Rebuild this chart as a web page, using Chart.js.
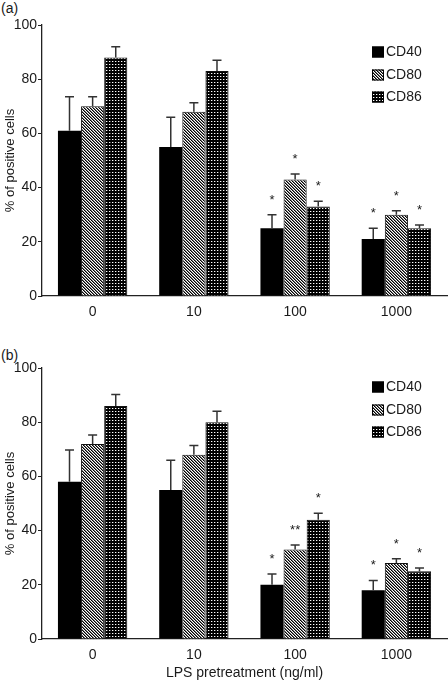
<!DOCTYPE html>
<html>
<head>
<meta charset="utf-8">
<script src="https://cdn.jsdelivr.net/npm/chart.js@4"></script>
<style>
    html, body { margin: 0; padding: 0; background: #fff; }
    body { width: 448px; height: 682px; position: relative; overflow: hidden;
           font-family: "Liberation Sans", Arial, Helvetica, sans-serif; color: #1a1a1a; }
    .panel { position: absolute; left: 0; }
    .tag { position: absolute; left: 1px; font-size: 14px; line-height: 16px; }
</style>
</head>
<body>
<div class="tag" style="top:0px">(a)</div>
<canvas id="chartA" class="panel" width="448" height="335" style="top:0"></canvas>
<div class="tag" style="top:347px">(b)</div>
<canvas id="chartB" class="panel" width="448" height="347" style="top:335px"></canvas>

<script>
const doses  = ["0", "10", "100", "1000"];
const series = ["CD40", "CD80", "CD86"];
const yMax   = 100;
const yStep  = 20;

/* panel (a) — mean % positive cells, SEM, significance marks */
const aCD40    = [61, 55, 25, 21];
const aCD80    = [70, 68, 43, 30];
const aCD86    = [88, 83, 33, 25];
const aCD40Sem = [12.5, 11, 5, 4];
const aCD80Sem = [3.5, 3.3, 2, 1.5];
const aCD86Sem = [4, 4, 2, 1.2];
const aCD40Sig = ["", "", "*", "*"];
const aCD80Sig = ["", "", "*", "*"];
const aCD86Sig = ["", "", "*", "*"];

/* panel (b) */
const bCD40    = [58, 55, 20, 18];
const bCD80    = [72, 68, 33, 28];
const bCD86    = [86, 80, 44, 25];
const bCD40Sem = [11.7, 11, 4, 3.6];
const bCD80Sem = [3.3, 3.4, 1.7, 1.6];
const bCD86Sem = [4.2, 4, 2.4, 1.2];
const bCD40Sig = ["", "", "*", "*"];
const bCD80Sig = ["", "", "**", "*"];
const bCD86Sig = ["", "", "*", "*"];

const FONT = "'Liberation Sans', Arial, Helvetica, sans-serif";
const INK  = "#1a1a1a";

function makePattern(w, h, draw) {
    const c = document.createElement("canvas");
    c.width = w; c.height = h;
    const g = c.getContext("2d");
    draw(g);
    return g.createPattern(c, "repeat");
}

const solid = "#000";
const hatch = makePattern(3, 3, g => {
    g.fillStyle = "#fff"; g.fillRect(0, 0, 3, 3);
    for (let i = 0; i < 3; i++) {
        g.fillStyle = "#000";  g.fillRect(i, i, 1, 1);
        g.fillStyle = "#777";  g.fillRect((i + 1) % 3, i, 1, 1);
    }
});
const dots = makePattern(3, 3, g => {
    g.fillStyle = "#000"; g.fillRect(0, 0, 3, 3);
    g.fillStyle = "#555"; g.fillRect(1, 1, 2, 1);
    g.fillStyle = "#fff"; g.fillRect(1, 1, 1, 1);
});
const fills = [solid, hatch, dots];

/* error bars (upper only) + asterisks */
const errorBars = {
    id: "errorBars",
    afterDatasetsDraw(chart) {
        const ctx = chart.ctx, y = chart.scales.y;
        ctx.save();
        chart.data.datasets.forEach((ds, di) => {
            const meta = chart.getDatasetMeta(di);
            meta.data.forEach((bar, i) => {
                const top = y.getPixelForValue(ds.data[i] + ds.sem[i]);
                ctx.strokeStyle = "#333";
                ctx.lineWidth = 1.5;
                ctx.beginPath();
                ctx.moveTo(bar.x, bar.y);
                ctx.lineTo(bar.x, top);
                ctx.moveTo(bar.x - 4.5, top);
                ctx.lineTo(bar.x + 4.5, top);
                ctx.stroke();
                if (ds.sig[i]) {
                    ctx.fillStyle = INK;
                    ctx.font = `13px ${FONT}`;
                    ctx.textAlign = "center";
                    ctx.textBaseline = "alphabetic";
                    ctx.fillText(ds.sig[i], bar.x, top - 11);
                }
            });
        });
        ctx.restore();
    }
};

/* legend in the top-right corner */
const boxLegend = {
    id: "boxLegend",
    afterDraw(chart) {
        const ctx = chart.ctx;
        const rows = [52, 75, 97];
        ctx.save();
        chart.data.datasets.forEach((ds, i) => {
            const cy = rows[i];
            ctx.fillStyle = ds.backgroundColor;
            ctx.fillRect(372, cy - 5.5, 12, 11);
            ctx.strokeStyle = "#000";
            ctx.lineWidth = 1;
            ctx.strokeRect(372.5, cy - 5, 11, 10);
            ctx.fillStyle = INK;
            ctx.font = `14px ${FONT}`;
            ctx.textAlign = "left";
            ctx.textBaseline = "middle";
            ctx.fillText(ds.label, 386, cy + 0.5);
        });
        ctx.restore();
    }
};

function buildChart(id, data, sems, sigs, padTop, xHeight, xTitle) {
    return new Chart(document.getElementById(id), {
        type: "bar",
        data: {
            labels: doses,
            datasets: series.map((name, i) => ({
                label: name,
                data: data[i],
                sem: sems[i],
                sig: sigs[i],
                backgroundColor: fills[i],
                borderColor: "#111",
                borderWidth: i === 0 ? 0 : 1,
                categoryPercentage: 0.685,
                barPercentage: 1.0,
            }))
        },
        options: {
            responsive: false,
            animation: false,
            layout: { padding: { top: padTop, right: 1, bottom: 0, left: 0 } },
            plugins: { legend: { display: false }, tooltip: { enabled: false } },
            scales: {
                x: {
                    grid: { display: false, drawTicks: false },
                    border: { display: true, color: "#222", width: 1.3 },
                    ticks: { color: INK, padding: 8, font: { family: FONT, size: 14 } },
                    title: {
                        display: !!xTitle, text: xTitle || "", color: INK,
                        padding: { top: 0, bottom: 0 },
                        font: { family: FONT, size: 14 }
                    },
                    afterFit: s => { s.height = xHeight; }
                },
                y: {
                    min: 0, max: yMax,
                    grid: { drawOnChartArea: false, drawTicks: true, tickLength: 4, color: "#222" },
                    border: { display: true, color: "#222", width: 1.3 },
                    ticks: { stepSize: yStep, color: INK, padding: 1, font: { family: FONT, size: 14 } },
                    title: {
                        display: true, text: "% of positive cells", color: INK,
                        padding: { top: 2.5, bottom: 0 },
                        font: { family: FONT, size: 13 }
                    },
                    afterFit: s => { s.width = 42; }
                }
            }
        },
        plugins: [errorBars, boxLegend]
    });
}

buildChart("chartA",
    [aCD40, aCD80, aCD86], [aCD40Sem, aCD80Sem, aCD86Sem], [aCD40Sig, aCD80Sig, aCD86Sig],
    25, 39, null);
buildChart("chartB",
    [bCD40, bCD80, bCD86], [bCD40Sem, bCD80Sem, bCD86Sem], [bCD40Sig, bCD80Sig, bCD86Sig],
    33, 43, "LPS pretreatment (ng/ml)");
</script>
</body>
</html>
